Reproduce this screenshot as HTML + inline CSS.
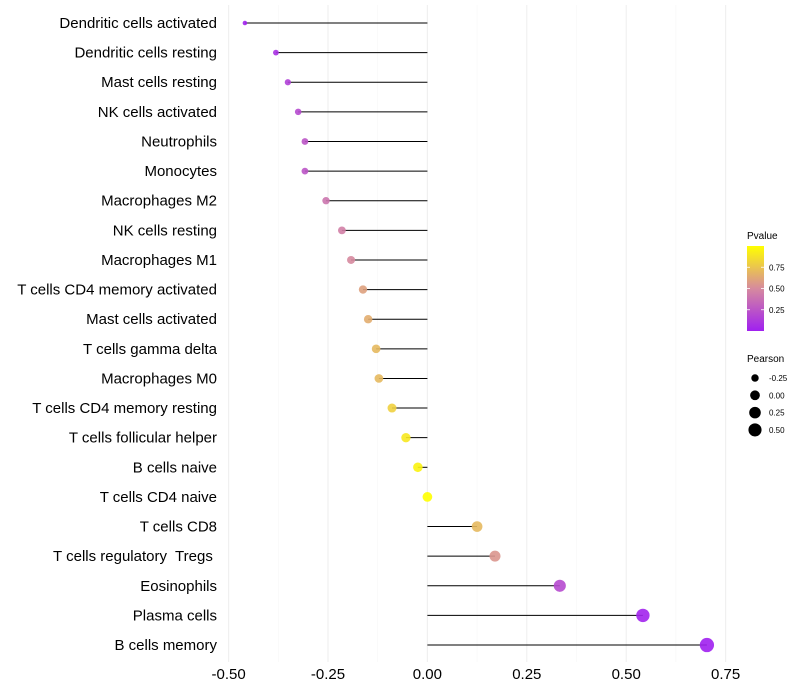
<!DOCTYPE html>
<html><head><meta charset="utf-8"><style>
body{margin:0;background:#fff;}
svg{display:block;font-family:"Liberation Sans",sans-serif;}
text{white-space:pre;}
</style></head><body>
<svg id="chart" width="800" height="700" xmlns="http://www.w3.org/2000/svg">
<g id="grid"></g>
<g id="marks"></g>
<g id="yaxis"></g>
<g id="xaxis"></g>
<g id="legend">
<defs><linearGradient id="pg" x1="0" y1="1" x2="0" y2="0">
<stop offset="0" stop-color="#a020f0"/><stop offset="0.5" stop-color="#d68a9e"/><stop offset="1" stop-color="#ffff00"/></linearGradient></defs>
<text x="747" y="239" font-size="10">Pvalue</text>
<rect x="747" y="246" width="17" height="85" fill="url(#pg)"/>
<text x="747" y="362" font-size="10">Pearson</text>
</g>
</svg>
<script>
const categories=["Dendritic cells activated","Dendritic cells resting","Mast cells resting","NK cells activated","Neutrophils","Monocytes","Macrophages M2","NK cells resting","Macrophages M1","T cells CD4 memory activated","Mast cells activated","T cells gamma delta","Macrophages M0","T cells CD4 memory resting","T cells follicular helper","B cells naive","T cells CD4 naive","T cells CD8","T cells regulatory  Tregs ","Eosinophils","Plasma cells","B cells memory"];
const pearson=[-0.459,-0.381,-0.351,-0.325,-0.308,-0.308,-0.255,-0.215,-0.192,-0.162,-0.149,-0.129,-0.122,-0.089,-0.054,-0.024,0,0.125,0.17,0.333,0.542,0.703];
const pvalue=[0.02,0.08,0.15,0.2,0.25,0.25,0.4,0.45,0.5,0.6,0.65,0.7,0.7,0.8,0.9,0.95,1.0,0.7,0.55,0.2,0.02,0.0];
const xTicks=[-0.5,-0.25,0,0.25,0.5,0.75];
const xTickLabels=["-0.50","-0.25","0.00","0.25","0.50","0.75"];
const pTicks=[0.25,0.5,0.75];
const pTickLabels=["0.25","0.50","0.75"];
const sizeBreaks=[-0.25,0,0.25,0.5];
const sizeLabels=["-0.25","0.00","0.25","0.50"];

const NS="http://www.w3.org/2000/svg";
const x=v=>427.4+v*397.6;
const y=i=>23+i*29.62;
const r=v=>Math.sqrt(Math.max(1,20+36*v))+0.4;
function hex(h){return [1,3,5].map(k=>parseInt(h.substr(k,2),16));}
const stops=[[0,hex("#a020f0")],[0.5,hex("#d68a9e")],[1,hex("#ffff00")]];
function col(p){let a=stops[0],b=stops[1];if(p>0.5){a=stops[1];b=stops[2];}
 const t=(p-a[0])/(b[0]-a[0]);const c=a[1].map((v,k)=>Math.round(v+(b[1][k]-v)*t));return `rgb(${c.join(",")})`;}
function mk(tag,attrs,parent,txt){const e=document.createElementNS(NS,tag);for(const k in attrs)e.setAttribute(k,attrs[k]);if(txt!==undefined)e.textContent=txt;parent.appendChild(e);return e;}
const grid=document.getElementById("grid"),marks=document.getElementById("marks"),ya=document.getElementById("yaxis"),xa=document.getElementById("xaxis"),lg=document.getElementById("legend");
for(let i=0;i<xTicks.length;i++){
 const gl=mk("line",{x1:x(xTicks[i]),x2:x(xTicks[i]),y1:5,y2:662,stroke:"#efefef","stroke-width":1.1},grid);
 
 
 if(i<xTicks.length-1){const m=(xTicks[i]+xTicks[i+1])/2;
  const ml=mk("line",{x1:x(m),x2:x(m),y1:5,y2:662,stroke:"#f6f6f6","stroke-width":0.6},grid);
  
  }
 const t=mk("text",{x:x(xTicks[i]),y:679,"font-size":15,"text-anchor":"middle",fill:"#000"},xa,xTickLabels[i]);
 
 
}
categories.forEach((c,i)=>{
 const t=mk("text",{x:217,y:y(i)+5,"font-size":15,"text-anchor":"end",fill:"#000"},ya,c);
 
 
 const s=mk("line",{x1:x(0),x2:x(pearson[i]),y1:y(i),y2:y(i),stroke:"#000","stroke-width":1},marks);
 
 
 const d=mk("circle",{cx:x(pearson[i]),cy:y(i),r:r(pearson[i]),fill:col(pvalue[i]),"fill-opacity":0.9},marks);
 
 
});
pTicks.forEach((p,i)=>{
 const yy=331-p*85;
 const tl=mk("line",{x1:747,x2:750,y1:yy,y2:yy,stroke:"#fff","stroke-width":0.8},lg);
 
 
 const tl2=mk("line",{x1:761,x2:764,y1:yy,y2:yy,stroke:"#fff","stroke-width":0.8},lg);
 
 
 const t=mk("text",{x:769,y:yy+3,"font-size":8},lg,pTickLabels[i]);
 
 
});
sizeBreaks.forEach((v,i)=>{
 const yy=378+i*17.3;
 const c=mk("circle",{cx:755,cy:yy,r:r(v),fill:"#000"},lg);
 
 
 const t=mk("text",{x:769,y:yy+3,"font-size":8},lg,sizeLabels[i]);
 
 
});
</script>
</body></html>
